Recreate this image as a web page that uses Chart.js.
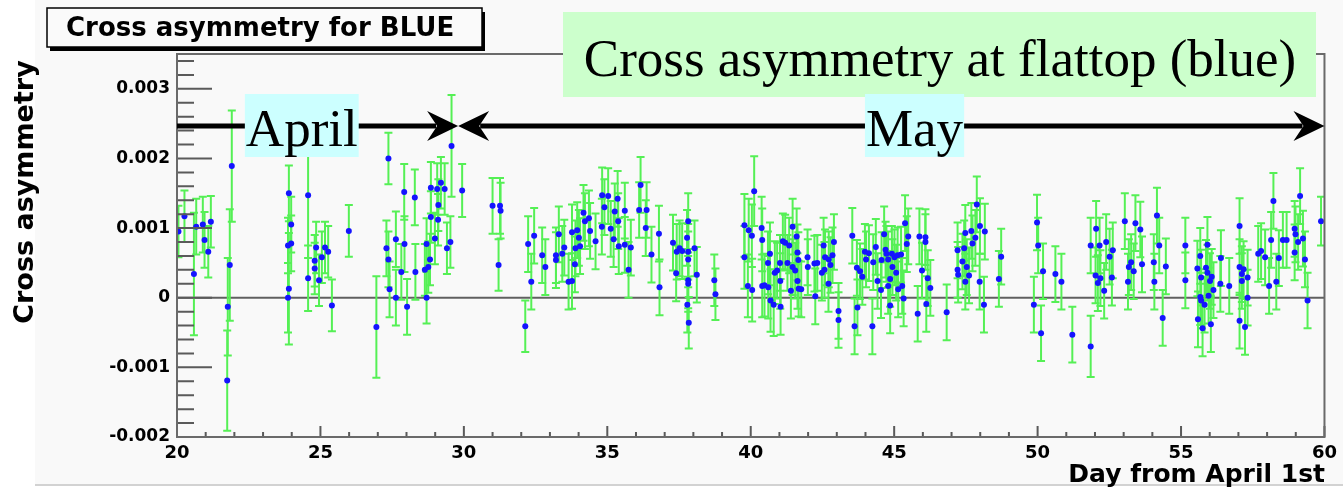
<!DOCTYPE html>
<html>
<head>
<meta charset="utf-8">
<script src="https://cdn.jsdelivr.net/npm/chart.js@4.4.1/dist/chart.umd.min.js"></script>
<style>
html,body{margin:0;padding:0;background:#fff;}
canvas{display:block;}
</style>
</head>
<body>
<canvas id="c" width="1343" height="493"></canvas>
<script>
// ---------- data ----------
const days = [
  20.05,20.26,20.59,20.67,20.90,20.96,21.09,21.18,
  21.91,21.84,21.77,21.75,
  23.90,23.98,23.87,23.98,23.90,23.87,24.57,24.57,24.85,24.80,24.80,24.95,
  25.05,25.16,25.27,25.40,25.99,26.95,
  27.37,27.30,27.37,27.41,27.63,27.63,27.82,27.92,27.93,28.02,28.29,28.31,
  28.70,28.70,28.64,28.76,28.82,28.85,28.85,28.99,29.07,29.11,29.10,29.20,29.33,29.41,29.53,29.57,29.94,
  31.00,31.26,31.28,31.21,32.14,32.24,32.35,32.45,32.73,32.84,
  33.21,33.21,33.31,33.43,33.50,33.65,33.77,33.77,33.87,33.89,33.95,34.01,34.05,34.17,34.22,34.36,34.40,34.59,34.82,34.81,34.90,
  35.03,35.12,35.22,35.26,35.36,35.38,35.40,35.61,35.61,35.74,35.82,
  36.11,36.16,36.34,36.37,36.54,36.80,36.82,
  37.29,37.40,37.42,37.52,37.61,37.82,37.78,37.82,37.82,37.82,37.82,37.79,37.84,38.04,38.12,38.73,38.77,
  39.78,39.78,39.90,39.93,40.04,40.05,40.12,40.38,40.40,40.40,40.48,40.60,40.67,40.61,40.69,40.80,40.84,
  40.92,41.03,41.02,41.04,41.12,41.20,41.28,41.34,41.40,41.46,41.46,41.55,41.60,41.63,41.66,41.63,41.67,41.76,41.98,41.99,
  42.25,42.22,42.32,42.48,42.54,42.57,42.59,42.71,42.72,42.78,42.85,42.90,43.06,43.06,
  43.54,43.70,43.81,43.89,43.72,43.62,43.98,44.02,44.12,44.24,44.27,44.36,44.42,44.54,44.56,44.65,44.70,44.73,44.79,44.79,44.86,44.86,44.92,44.94,
  45.01,45.07,45.12,45.14,45.24,45.28,45.33,45.38,45.44,45.49,45.82,45.88,45.97,
  46.09,46.09,46.12,46.17,46.26,46.83,
  47.21,47.21,47.23,47.38,47.44,47.48,47.48,47.53,47.61,47.69,47.73,47.83,47.88,47.99,47.98,48.13,48.16,48.65,48.73,
  49.98,50.02,49.87,50.12,50.19,50.62,50.83,51.21,
  51.85,51.85,52.04,52.02,52.10,52.16,52.19,52.32,52.39,52.51,52.62,52.59,
  53.04,53.15,53.18,53.26,53.35,53.41,53.58,53.64,54.05,54.07,54.16,54.24,54.36,54.47,
  55.15,55.15,55.57,55.59,55.67,55.70,55.67,55.70,55.75,55.82,55.87,55.92,55.92,55.96,56.01,56.04,56.07,56.13,56.39,56.37,
  56.68,57.04,57.04,57.12,57.18,57.12,57.32,57.32,57.04,57.23,
  57.69,57.79,57.93,58.07,58.14,58.22,58.32,58.41,58.55,58.68,58.96,58.99,58.96,59.08,59.15,59.25,59.32,59.41,59.88
];

const asymmetry = [
  0.95e-3,1.17e-3,0.34e-3,1.02e-3,1.05e-3,0.83e-3,0.66e-3,1.09e-3,
  1.89e-3,0.47e-3,-0.13e-3,-1.19e-3,
  1.50e-3,1.05e-3,0.75e-3,0.78e-3,0.13e-3,0.00e-3,1.47e-3,0.28e-3,0.72e-3,0.53e-3,0.42e-3,0.25e-3,
  0.58e-3,0.72e-3,0.66e-3,-0.11e-3,0.96e-3,-0.42e-3,
  2.00e-3,0.71e-3,0.55e-3,0.12e-3,0.84e-3,0.00e-3,0.37e-3,1.52e-3,0.77e-3,-0.13e-3,1.44e-3,0.37e-3,
  0.77e-3,0.00e-3,0.40e-3,0.44e-3,0.55e-3,1.58e-3,1.16e-3,0.85e-3,1.56e-3,1.33e-3,1.12e-3,1.65e-3,1.56e-3,0.71e-3,0.80e-3,2.18e-3,1.54e-3,
  1.32e-3,1.32e-3,1.25e-3,0.47e-3,-0.41e-3,0.77e-3,0.23e-3,0.89e-3,0.61e-3,0.44e-3,
  0.61e-3,0.54e-3,0.91e-3,0.63e-3,0.72e-3,0.23e-3,0.24e-3,0.94e-3,0.48e-3,0.71e-3,0.97e-3,0.86e-3,0.74e-3,1.22e-3,1.10e-3,1.14e-3,0.96e-3,0.81e-3,1.47e-3,1.02e-3,1.30e-3,
  1.46e-3,0.99e-3,0.84e-3,1.24e-3,1.42e-3,1.10e-3,0.74e-3,1.25e-3,0.76e-3,0.40e-3,0.72e-3,
  1.26e-3,1.62e-3,1.00e-3,1.26e-3,0.62e-3,0.92e-3,0.15e-3,
  0.79e-3,0.35e-3,0.66e-3,0.71e-3,0.67e-3,1.10e-3,0.86e-3,0.66e-3,0.55e-3,0.25e-3,0.20e-3,-0.10e-3,-0.36e-3,0.71e-3,0.33e-3,0.25e-3,0.05e-3,
  1.04e-3,0.58e-3,0.17e-3,0.97e-3,0.89e-3,0.11e-3,1.53e-3,1.00e-3,0.83e-3,0.17e-3,0.18e-3,0.50e-3,0.63e-3,0.15e-3,-0.04e-3,-0.10e-3,0.36e-3,
  0.39e-3,0.24e-3,0.50e-3,-0.13e-3,0.81e-3,0.79e-3,0.50e-3,0.75e-3,0.10e-3,1.02e-3,0.44e-3,0.39e-3,0.88e-3,0.65e-3,0.54e-3,0.24e-3,0.13e-3,0.12e-3,0.58e-3,0.44e-3,
  0.02e-3,0.49e-3,0.50e-3,0.36e-3,0.75e-3,0.40e-3,0.58e-3,0.20e-3,0.55e-3,0.47e-3,0.61e-3,0.80e-3,-0.19e-3,-0.32e-3,
  0.89e-3,0.43e-3,0.38e-3,0.30e-3,-0.14e-3,-0.41e-3,0.66e-3,0.55e-3,0.64e-3,-0.41e-3,0.51e-3,0.73e-3,0.24e-3,0.11e-3,0.54e-3,0.91e-3,0.69e-3,0.63e-3,0.55e-3,0.17e-3,0.27e-3,-0.11e-3,0.63e-3,0.44e-3,
  0.58e-3,0.36e-3,0.61e-3,0.12e-3,0.62e-3,0.17e-3,-0.01e-3,1.07e-3,0.77e-3,0.88e-3,-0.23e-3,0.88e-3,0.39e-3,
  0.87e-3,0.80e-3,-0.09e-3,0.28e-3,0.14e-3,-0.21e-3,
  0.68e-3,0.40e-3,0.33e-3,0.52e-3,0.71e-3,0.93e-3,0.23e-3,0.44e-3,0.32e-3,0.96e-3,0.78e-3,0.86e-3,1.34e-3,1.03e-3,0.23e-3,-0.10e-3,0.95e-3,0.27e-3,0.59e-3,
  1.08e-3,0.75e-3,-0.10e-3,-0.51e-3,0.38e-3,0.34e-3,0.23e-3,-0.53e-3,
  -0.70e-3,0.75e-3,0.99e-3,0.32e-3,0.21e-3,0.75e-3,0.28e-3,0.10e-3,0.80e-3,0.59e-3,0.68e-3,0.29e-3,
  1.10e-3,0.23e-3,0.44e-3,0.51e-3,0.38e-3,1.07e-3,0.98e-3,0.48e-3,0.51e-3,0.23e-3,1.18e-3,0.75e-3,-0.29e-3,0.45e-3,
  0.75e-3,0.25e-3,0.42e-3,-0.31e-3,0.60e-3,0.29e-3,0.01e-3,-0.04e-3,-0.44e-3,-0.10e-3,0.43e-3,0.76e-3,0.36e-3,0.03e-3,0.24e-3,-0.38e-3,0.30e-3,0.11e-3,0.57e-3,0.20e-3,
  0.17e-3,1.03e-3,0.44e-3,0.34e-3,0.41e-3,0.24e-3,0.29e-3,0.00e-3,-0.33e-3,-0.42e-3,
  0.63e-3,0.67e-3,0.58e-3,0.17e-3,0.83e-3,1.39e-3,0.23e-3,0.57e-3,0.83e-3,0.83e-3,0.99e-3,0.91e-3,0.65e-3,0.80e-3,1.46e-3,0.85e-3,0.55e-3,-0.04e-3,1.10e-3
];

const errors = [
  0.37e-3,0.37e-3,0.88e-3,0.40e-3,0.40e-3,0.40e-3,0.37e-3,0.37e-3,
  0.80e-3,0.80e-3,0.70e-3,0.72e-3,
  0.40e-3,0.40e-3,0.40e-3,0.40e-3,0.80e-3,0.50e-3,0.90e-3,0.47e-3,0.37e-3,0.37e-3,0.37e-3,0.37e-3,
  0.37e-3,0.37e-3,0.37e-3,0.37e-3,0.37e-3,0.73e-3,
  0.37e-3,0.40e-3,0.40e-3,0.40e-3,0.40e-3,0.40e-3,0.40e-3,0.40e-3,0.40e-3,0.40e-3,0.40e-3,0.40e-3,
  0.37e-3,0.37e-3,0.37e-3,0.37e-3,0.37e-3,0.37e-3,0.37e-3,0.37e-3,0.37e-3,0.37e-3,0.37e-3,0.37e-3,0.37e-3,0.37e-3,0.37e-3,0.73e-3,0.38e-3,
  0.40e-3,0.40e-3,0.40e-3,0.37e-3,0.37e-3,0.40e-3,0.40e-3,0.40e-3,0.40e-3,0.40e-3,
  0.40e-3,0.40e-3,0.40e-3,0.40e-3,0.40e-3,0.40e-3,0.40e-3,0.40e-3,0.40e-3,0.40e-3,0.40e-3,0.40e-3,0.40e-3,0.40e-3,0.40e-3,0.40e-3,0.40e-3,0.40e-3,0.40e-3,0.40e-3,0.40e-3,
  0.40e-3,0.40e-3,0.40e-3,0.40e-3,0.40e-3,0.40e-3,0.40e-3,0.40e-3,0.40e-3,0.40e-3,0.40e-3,
  0.40e-3,0.40e-3,0.40e-3,0.40e-3,0.40e-3,0.40e-3,0.40e-3,
  0.40e-3,0.40e-3,0.40e-3,0.40e-3,0.40e-3,0.40e-3,0.40e-3,0.40e-3,0.40e-3,0.40e-3,0.40e-3,0.40e-3,0.37e-3,0.40e-3,0.40e-3,0.37e-3,0.37e-3,
  0.45e-3,0.45e-3,0.45e-3,0.45e-3,0.45e-3,0.45e-3,0.50e-3,0.45e-3,0.45e-3,0.45e-3,0.45e-3,0.45e-3,0.45e-3,0.45e-3,0.45e-3,0.45e-3,0.45e-3,
  0.40e-3,0.40e-3,0.40e-3,0.40e-3,0.40e-3,0.40e-3,0.40e-3,0.40e-3,0.40e-3,0.40e-3,0.40e-3,0.40e-3,0.40e-3,0.40e-3,0.40e-3,0.40e-3,0.40e-3,0.40e-3,0.40e-3,0.40e-3,
  0.40e-3,0.40e-3,0.40e-3,0.40e-3,0.40e-3,0.40e-3,0.40e-3,0.40e-3,0.40e-3,0.40e-3,0.40e-3,0.40e-3,0.40e-3,0.40e-3,
  0.40e-3,0.40e-3,0.40e-3,0.40e-3,0.40e-3,0.40e-3,0.40e-3,0.40e-3,0.40e-3,0.40e-3,0.40e-3,0.40e-3,0.40e-3,0.40e-3,0.40e-3,0.40e-3,0.40e-3,0.40e-3,0.40e-3,0.40e-3,0.40e-3,0.40e-3,0.40e-3,0.40e-3,
  0.40e-3,0.40e-3,0.40e-3,0.40e-3,0.40e-3,0.40e-3,0.40e-3,0.40e-3,0.40e-3,0.40e-3,0.40e-3,0.40e-3,0.40e-3,
  0.40e-3,0.40e-3,0.40e-3,0.40e-3,0.40e-3,0.40e-3,
  0.40e-3,0.40e-3,0.40e-3,0.40e-3,0.40e-3,0.40e-3,0.40e-3,0.40e-3,0.40e-3,0.40e-3,0.40e-3,0.40e-3,0.40e-3,0.40e-3,0.40e-3,0.40e-3,0.40e-3,0.40e-3,0.40e-3,
  0.40e-3,0.40e-3,0.40e-3,0.40e-3,0.40e-3,0.40e-3,0.40e-3,0.40e-3,
  0.44e-3,0.40e-3,0.40e-3,0.40e-3,0.40e-3,0.40e-3,0.40e-3,0.40e-3,0.40e-3,0.40e-3,0.40e-3,0.40e-3,
  0.40e-3,0.40e-3,0.40e-3,0.40e-3,0.40e-3,0.40e-3,0.40e-3,0.40e-3,0.40e-3,0.40e-3,0.40e-3,0.40e-3,0.40e-3,0.40e-3,
  0.40e-3,0.40e-3,0.40e-3,0.40e-3,0.40e-3,0.40e-3,0.40e-3,0.40e-3,0.40e-3,0.40e-3,0.40e-3,0.40e-3,0.40e-3,0.40e-3,0.40e-3,0.40e-3,0.40e-3,0.40e-3,0.40e-3,0.40e-3,
  0.40e-3,0.40e-3,0.40e-3,0.40e-3,0.40e-3,0.40e-3,0.40e-3,0.40e-3,0.40e-3,0.40e-3,
  0.40e-3,0.40e-3,0.40e-3,0.40e-3,0.40e-3,0.40e-3,0.40e-3,0.40e-3,0.40e-3,0.40e-3,0.40e-3,0.40e-3,0.40e-3,0.40e-3,0.40e-3,0.40e-3,0.40e-3,0.40e-3,0.35e-3
];

const xTickValues = [20, 25, 30, 35, 40, 45, 50, 55, 60];
const yTickLabels = ['-0.002', '-0.001', '0', '0.001', '0.002', '0.003'];
const chartTitle = 'Cross asymmetry for BLUE';
const overlayTitle = 'Cross asymmetry at flattop (blue)';
const xTitle = 'Day from April 1st';
const yTitle = 'Cross asymmetry';
const periodNames = ['April', 'May'];
const periodStart = [20, 29.8];
const periodEnd = [29.8, 60];
const periodLabelAt = [24.35, 45.71];

// ---------- drawing ----------
const SANS = '"DejaVu Sans", "Liberation Sans", sans-serif';
const SERIF = '"Liberation Serif", "DejaVu Serif", serif';

const points = days.map((d, i) => ({ x: d, y: asymmetry[i] }));

function arrowHead(ctx, tipX, y, dir) {
  ctx.beginPath();
  ctx.moveTo(tipX, y);
  ctx.lineTo(tipX - dir * 31, y - 15);
  ctx.lineTo(tipX - dir * 21, y);
  ctx.lineTo(tipX - dir * 31, y + 15);
  ctx.closePath();
  ctx.fill();
}

const rootStyle = {
  id: 'rootStyle',
  beforeDraw(chart) {
    const ctx = chart.ctx;
    ctx.save();
    ctx.fillStyle = '#ffffff';
    ctx.fillRect(0, 0, chart.width, chart.height);
    ctx.fillStyle = '#f9f9f9';
    ctx.fillRect(35, 0, chart.width - 35, 484);
    ctx.strokeStyle = '#d2d2d2';
    ctx.lineWidth = 2;
    ctx.beginPath();
    ctx.moveTo(35, 485);
    ctx.lineTo(chart.width, 485);
    ctx.stroke();
    ctx.restore();
  },
  beforeDatasetsDraw(chart) {
    const { ctx, chartArea: a, scales: { x, y } } = chart;
    ctx.save();
    ctx.beginPath();
    ctx.rect(a.left, a.top, a.right - a.left, a.bottom - a.top);
    ctx.clip();
    // zero line
    const y0 = y.getPixelForValue(0);
    ctx.strokeStyle = '#606060';
    ctx.lineWidth = 2;
    ctx.beginPath();
    ctx.moveTo(a.left, y0);
    ctx.lineTo(a.right, y0);
    ctx.stroke();
    // error bars
    ctx.strokeStyle = '#55f055';
    ctx.lineWidth = 2;
    days.forEach((d, i) => {
      const px = x.getPixelForValue(d);
      const top = y.getPixelForValue(asymmetry[i] + errors[i]);
      const bot = y.getPixelForValue(asymmetry[i] - errors[i]);
      ctx.beginPath();
      ctx.moveTo(px, top);
      ctx.lineTo(px, bot);
      ctx.moveTo(px - 4, top);
      ctx.lineTo(px + 4, top);
      ctx.moveTo(px - 4, bot);
      ctx.lineTo(px + 4, bot);
      ctx.stroke();
    });
    ctx.restore();
  },
  afterDatasetsDraw(chart) {
    const { ctx, chartArea: a, scales: { x, y } } = chart;
    ctx.save();
    // ticks (ROOT style, inside frame)
    ctx.strokeStyle = '#5a5a5a';
    ctx.lineWidth = 2;
    ctx.beginPath();
    for (let k = -10; k <= 17; k++) {
      const py = y.getPixelForValue(k * 0.0002);
      const len = (k % 5 === 0) ? 35 : 17;
      ctx.moveTo(a.left, py);
      ctx.lineTo(a.left + len, py);
    }
    for (let d = 20; d <= 60; d++) {
      const px = x.getPixelForValue(d);
      const len = (d % 5 === 0) ? 11 : 5;
      ctx.moveTo(px, a.bottom);
      ctx.lineTo(px, a.bottom - len);
    }
    ctx.stroke();
    // frame
    ctx.strokeStyle = '#6a6a6a';
    ctx.lineWidth = 2;
    ctx.strokeRect(a.left, a.top, a.right - a.left, a.bottom - a.top);
    ctx.restore();
  },
  afterDraw(chart) {
    const { ctx, scales: { x } } = chart;
    ctx.save();
    // ROOT title box
    ctx.fillStyle = '#000';
    ctx.fillRect(50, 12, 435, 39);
    ctx.fillStyle = '#fafafa';
    ctx.fillRect(47, 8, 435, 39);
    ctx.strokeStyle = '#000';
    ctx.lineWidth = 1.5;
    ctx.strokeRect(47, 8, 435, 39);
    ctx.fillStyle = '#000';
    ctx.font = 'bold 26px ' + SANS;
    ctx.textAlign = 'left';
    ctx.textBaseline = 'alphabetic';
    ctx.fillText(chartTitle, 66, 36);

    // green overlay title
    ctx.fillStyle = '#ccffcc';
    ctx.fillRect(563, 12, 753, 85);
    ctx.fillStyle = '#000';
    ctx.font = '53px ' + SERIF;
    ctx.textAlign = 'center';
    ctx.fillText(overlayTitle, 940, 76);

    // period arrows
    const ay = 126;
    ctx.strokeStyle = '#000';
    ctx.fillStyle = '#000';
    ctx.lineWidth = 5;
    periodNames.forEach((name, i) => {
      const x1 = x.getPixelForValue(periodStart[i]);
      const x2 = x.getPixelForValue(periodEnd[i]);
      const hasLeft = i > 0;
      ctx.beginPath();
      ctx.moveTo(x1 + (hasLeft ? 22 : 0), ay);
      ctx.lineTo(x2 - 22, ay);
      ctx.stroke();
      arrowHead(ctx, x2, ay, 1);
      if (hasLeft) arrowHead(ctx, x1, ay, -1);
    });
    // period labels
    ctx.font = '53px ' + SERIF;
    periodNames.forEach((name, i) => {
      const cx = x.getPixelForValue(periodLabelAt[i]);
      const w = ctx.measureText(name).width + 2;
      ctx.fillStyle = '#ccffff';
      ctx.fillRect(cx - w / 2, 94, w, 63);
      ctx.fillStyle = '#000';
      ctx.textAlign = 'center';
      ctx.fillText(name, cx, 146);
    });

    // axis titles
    ctx.fillStyle = '#000';
    ctx.font = 'bold 25px ' + SANS;
    ctx.textAlign = 'right';
    ctx.fillText(xTitle, 1325, 482);
    ctx.save();
    ctx.translate(33, 192);
    ctx.rotate(-Math.PI / 2);
    ctx.font = 'bold 27px ' + SANS;
    ctx.textAlign = 'center';
    ctx.fillText(yTitle, 0, 0);
    ctx.restore();
    ctx.restore();
  }
};

new Chart(document.getElementById('c'), {
  type: 'scatter',
  data: {
    datasets: [{
      label: 'Cross asymmetry',
      data: points,
      pointStyle: 'circle',
      pointRadius: 3,
      pointBackgroundColor: '#1414ff',
      pointBorderWidth: 0,
      showLine: false
    }]
  },
  options: {
    responsive: false,
    animation: false,
    devicePixelRatio: 1,
    layout: { padding: { left: 0, top: 54, right: 10, bottom: 0 } },
    plugins: { legend: { display: false }, tooltip: { enabled: false }, title: { display: false } },
    scales: {
      x: {
        type: 'linear',
        min: 20,
        max: 60,
        grid: { display: false, drawTicks: false, tickLength: 0 },
        border: { display: false },
        afterBuildTicks(s) { s.ticks = xTickValues.map(v => ({ value: v })); },
        ticks: {
          color: '#000',
          font: { family: SANS, weight: 'bold', size: 18 },
          padding: 6,
          maxRotation: 0,
          autoSkip: false,
          callback: v => String(v)
        },
        afterFit(s) { s.height = 56; }
      },
      y: {
        type: 'linear',
        min: -0.002,
        max: 0.0035,
        grid: { display: false, drawTicks: false, tickLength: 0 },
        border: { display: false },
        afterBuildTicks(s) { s.ticks = yTickLabels.map(t => ({ value: parseFloat(t) })); },
        ticks: {
          color: '#000',
          font: { family: SANS, weight: 'bold', size: 17 },
          padding: 7,
          autoSkip: false,
          callback: (v, i) => yTickLabels[i]
        },
        afterFit(s) { s.width = 177; }
      }
    }
  },
  plugins: [rootStyle]
});
</script>
</body>
</html>
